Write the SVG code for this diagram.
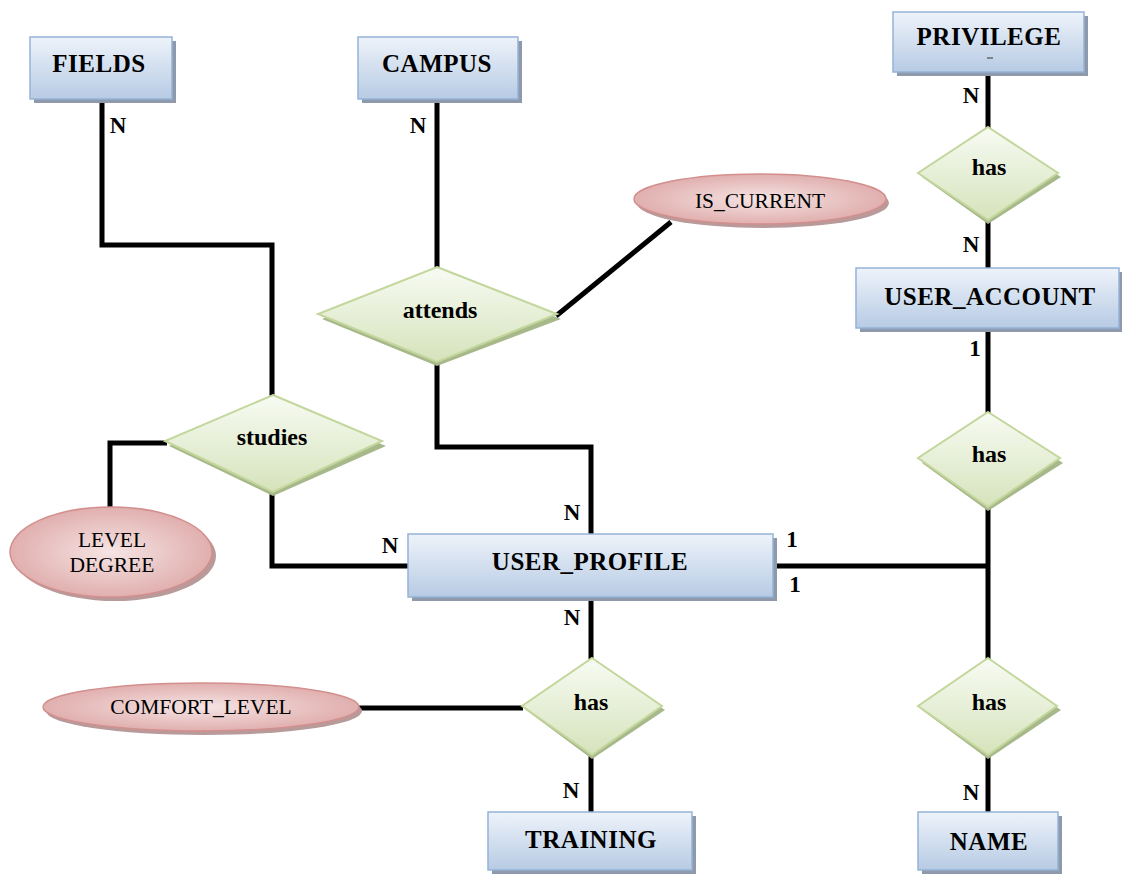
<svg xmlns="http://www.w3.org/2000/svg" width="1122" height="878" viewBox="0 0 1122 878">
  <defs>
    <linearGradient id="entFill" x1="0" y1="0" x2="0" y2="1">
      <stop offset="0" stop-color="#eef3fa"/>
      <stop offset="1" stop-color="#b7cbe4"/>
    </linearGradient>
    <linearGradient id="relFill" x1="0" y1="0" x2="0" y2="1">
      <stop offset="0" stop-color="#f8fbf3"/>
      <stop offset="1" stop-color="#d5e3bb"/>
    </linearGradient>
    <radialGradient id="attFill" cx="0.5" cy="0.5" r="0.55">
      <stop offset="0" stop-color="#f6e4e4"/>
      <stop offset="1" stop-color="#deaaa9"/>
    </radialGradient>
  </defs>
  <style>
    .ent { fill: url(#entFill); stroke: #95b3d7; stroke-width: 1.5; }
    .ent-sh { fill: #8e9aab; }
    .rel { fill: url(#relFill); stroke: #c3d69b; stroke-width: 2; }
    .rel-sh { fill: #a7b98a; }
    .att { fill: url(#attFill); stroke: #d38f8d; stroke-width: 1.5; }
    .att-sh { fill: #b99a9a; }
    .etxt { font-family: "Liberation Serif", serif; font-weight: bold; font-size: 25px; fill: #000; text-anchor: middle; letter-spacing: 0.5px; }
    .rtxt { font-family: "Liberation Serif", serif; font-weight: bold; font-size: 24px; fill: #000; text-anchor: middle; }
    .atxt { font-family: "Liberation Serif", serif; font-size: 21.5px; fill: #000; text-anchor: middle; }
    .card { font-family: "Liberation Serif", serif; font-weight: bold; font-size: 23px; fill: #000; text-anchor: middle; }
    .link { fill: none; stroke: #000; stroke-width: 5; stroke-linejoin: miter; }
  </style>

  <rect width="1122" height="878" fill="#ffffff"/>

  <!-- connectors -->
  <g id="connectors">
    <polyline class="link" points="102,99 102,245 272,245 272,396"/>
    <polyline class="link" points="272,490 272,566 409,566"/>
    <polyline class="link" points="167,443 110,443 110,508"/>
    <polyline class="link" points="437,100 437,269"/>
    <polyline class="link" points="556,316 671,222"/>
    <polyline class="link" points="437,361 437,447 591,447 591,535"/>
    <polyline class="link" points="591,597 591,659"/>
    <polyline class="link" points="591,754 591,812"/>
    <polyline class="link" points="358,708 523,708"/>
    <polyline class="link" points="773,566 990,566"/>
    <polyline class="link" points="988,72 988,128"/>
    <polyline class="link" points="988,219 988,268"/>
    <polyline class="link" points="988,328 988,413"/>
    <polyline class="link" points="988,506 988,659"/>
    <polyline class="link" points="988,754 988,813"/>
  </g>

  <!-- entities -->
  <g id="fields">
    <rect class="ent-sh" x="34" y="41" width="142" height="62"/>
    <rect class="ent" x="30" y="37" width="142" height="62"/>
    <text class="etxt" x="99" y="72">FIELDS</text>
  </g>
  <g id="campus">
    <rect class="ent-sh" x="362" y="41" width="160" height="62"/>
    <rect class="ent" x="358" y="37" width="160" height="62"/>
    <text class="etxt" x="437" y="72">CAMPUS</text>
  </g>
  <g id="privilege">
    <rect class="ent-sh" x="897" y="16" width="191" height="60"/>
    <rect class="ent" x="893" y="12" width="191" height="60"/>
    <text class="etxt" x="989" y="45">PRIVILEGE</text>
    <line x1="987" y1="58" x2="993" y2="58" stroke="#333" stroke-width="1"/>
  </g>
  <g id="user_account">
    <rect class="ent-sh" x="860" y="272" width="262" height="60"/>
    <rect class="ent" x="856" y="268" width="263" height="60"/>
    <text class="etxt" x="990" y="305">USER_ACCOUNT</text>
  </g>
  <g id="user_profile">
    <rect class="ent-sh" x="412" y="538" width="365" height="63"/>
    <rect class="ent" x="408" y="534" width="365" height="63"/>
    <text class="etxt" x="590" y="570">USER_PROFILE</text>
  </g>
  <g id="training">
    <rect class="ent-sh" x="492" y="816" width="204" height="58"/>
    <rect class="ent" x="488" y="812" width="204" height="58"/>
    <text class="etxt" x="591" y="848">TRAINING</text>
  </g>
  <g id="name">
    <rect class="ent-sh" x="922" y="816" width="140" height="58"/>
    <rect class="ent" x="918" y="812" width="140" height="58"/>
    <text class="etxt" x="989" y="850">NAME</text>
  </g>

  <!-- relationships -->
  <g id="attends">
    <polygon class="rel-sh" points="437,272 561,319 437,366 322,319"/>
    <polygon class="rel" points="437,267 557,314 437,362 318,314"/>
    <text class="rtxt" x="440" y="318">attends</text>
  </g>
  <g id="studies">
    <polygon class="rel-sh" points="273,399 386,446 273,496 169,446"/>
    <polygon class="rel" points="273,395 382,441 273,492 165,441"/>
    <text class="rtxt" x="272" y="445">studies</text>
  </g>
  <g id="has_privilege">
    <polygon class="rel-sh" points="988,131 1061,177 988,224 922,177"/>
    <polygon class="rel" points="988,127 1058,173 988,220 918,173"/>
    <text class="rtxt" x="989" y="175">has</text>
  </g>
  <g id="has_account">
    <polygon class="rel-sh" points="988,416 1063,463 988,511 922,463"/>
    <polygon class="rel" points="988,412 1060,458 988,507 918,458"/>
    <text class="rtxt" x="989" y="462">has</text>
  </g>
  <g id="has_name">
    <polygon class="rel-sh" points="988,662 1061,710 988,759 922,710"/>
    <polygon class="rel" points="988,658 1057,706 988,755 918,706"/>
    <text class="rtxt" x="989" y="710">has</text>
  </g>
  <g id="has_training">
    <polygon class="rel-sh" points="592,662 665,710 592,759 526,710"/>
    <polygon class="rel" points="592,658 662,706 592,755 522,706"/>
    <text class="rtxt" x="591" y="710">has</text>
  </g>

  <!-- attributes -->
  <g id="is_current">
    <ellipse class="att-sh" cx="763" cy="203" rx="126" ry="25"/>
    <ellipse class="att" cx="760" cy="199" rx="126" ry="25"/>
    <text class="atxt" x="760" y="208">IS_CURRENT</text>
  </g>
  <g id="level_degree">
    <ellipse class="att-sh" cx="115" cy="556" rx="101" ry="45"/>
    <ellipse class="att" cx="111" cy="552" rx="101" ry="45"/>
    <text class="atxt" x="112" y="547">LEVEL</text>
    <text class="atxt" x="112" y="572">DEGREE</text>
  </g>
  <g id="comfort_level">
    <ellipse class="att-sh" cx="204" cy="711" rx="158" ry="24"/>
    <ellipse class="att" cx="201" cy="707" rx="158" ry="24"/>
    <text class="atxt" x="201" y="714">COMFORT_LEVEL</text>
  </g>

  <!-- cardinalities -->
  <g id="cardinalities">
    <text class="card" x="118" y="133">N</text>
    <text class="card" x="418" y="133">N</text>
    <text class="card" x="971" y="103">N</text>
    <text class="card" x="971" y="252">N</text>
    <text class="card" x="975" y="356">1</text>
    <text class="card" x="572" y="520">N</text>
    <text class="card" x="390" y="553">N</text>
    <text class="card" x="792" y="547">1</text>
    <text class="card" x="795" y="592">1</text>
    <text class="card" x="572" y="625">N</text>
    <text class="card" x="571" y="798">N</text>
    <text class="card" x="971" y="800">N</text>
  </g>
</svg>
